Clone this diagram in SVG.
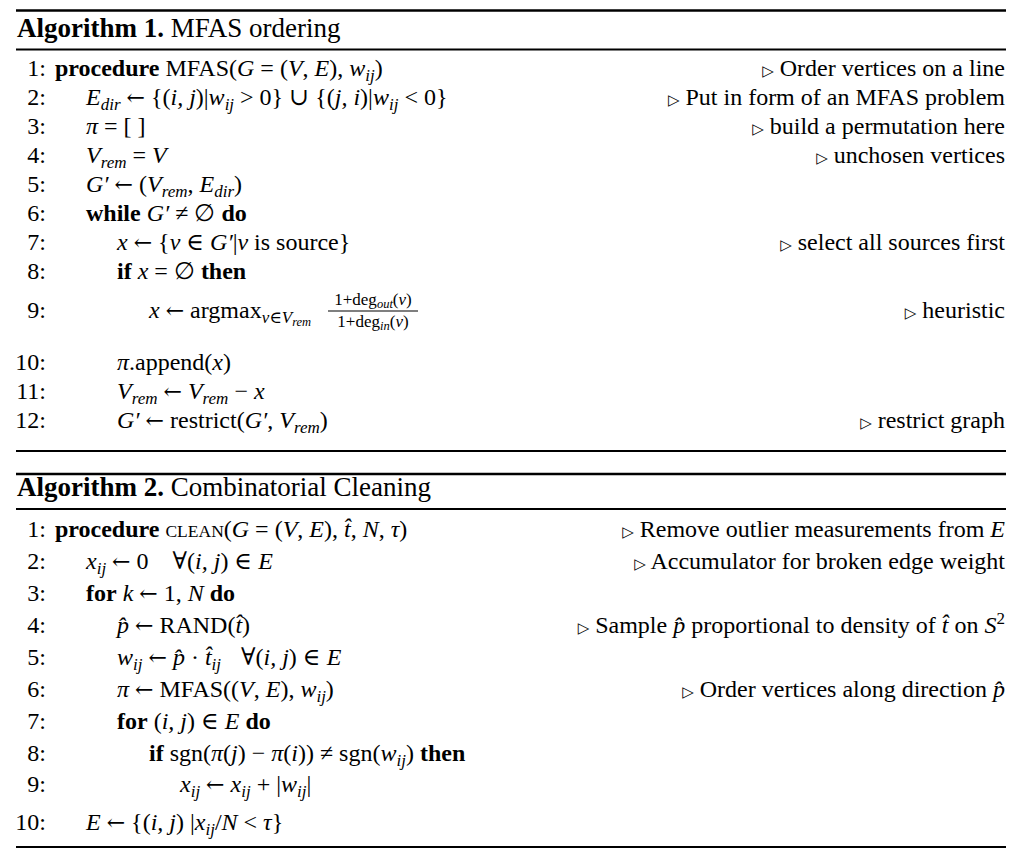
<svg xmlns="http://www.w3.org/2000/svg" width="1022" height="857" viewBox="0 0 1022 857">
<style>
text{font-family:"Liberation Serif","DejaVu Serif",serif;font-size:24px;fill:#000}
.ttl{font-size:27px}
.bf{font-weight:bold}
.it{font-style:italic}
.sb{font-size:17px}
.ss{font-size:12.5px}
.fr{font-size:17px}
.sc{font-size:17.5px}
.ar{font-family:"DejaVu Serif",serif;font-size:22px}
.tri{font-family:"DejaVu Sans",sans-serif;font-size:15px}
.num{text-anchor:end}
.cm{text-anchor:end}
.thick{stroke:#000;stroke-width:2.6}
.thin{stroke:#000;stroke-width:1.8}
.bar{stroke:#000;stroke-width:1.1}
</style>
<rect width="1022" height="857" fill="#fff"/>
<g id="rules">
<line class="thick" x1="16" y1="10.5" x2="1006" y2="10.5"/>
<line class="thin" x1="16" y1="49.5" x2="1006" y2="49.5"/>
<line class="thin" x1="16" y1="451" x2="1006" y2="451"/>
<line class="thick" x1="16" y1="474" x2="1006" y2="474"/>
<line class="thin" x1="16" y1="509" x2="1006" y2="509"/>
<line class="thin" x1="16" y1="847" x2="1006" y2="847"/>
</g>
<g id="alg1">
<text class="ttl" x="17" y="37"><tspan class="bf">Algorithm 1.</tspan> MFAS ordering</text>
<g id="a1-numbers">
<text class="num" x="46" y="76">1:</text>
<text class="num" x="46" y="105">2:</text>
<text class="num" x="46" y="134">3:</text>
<text class="num" x="46" y="163">4:</text>
<text class="num" x="46" y="192">5:</text>
<text class="num" x="46" y="221">6:</text>
<text class="num" x="46" y="250">7:</text>
<text class="num" x="46" y="279">8:</text>
<text class="num" x="46" y="318">9:</text>
<text class="num" x="46" y="370">10:</text>
<text class="num" x="46" y="399">11:</text>
<text class="num" x="46" y="428">12:</text>
</g>
<g id="a1-code">
<text x="55" y="76"><tspan class="bf">procedure</tspan> MFAS(<tspan class="it">G</tspan> = (<tspan class="it">V</tspan>, <tspan class="it">E</tspan>), <tspan class="it">w</tspan><tspan class="it sb" dy="5">ij</tspan><tspan dy="-5">)</tspan></text>
<text x="86" y="105"><tspan class="it">E</tspan><tspan class="it sb" dy="5">dir</tspan><tspan dy="-5"> </tspan><tspan class="ar">←</tspan> {(<tspan class="it">i, j</tspan>)|<tspan class="it">w</tspan><tspan class="it sb" dy="5">ij</tspan><tspan dy="-5"> &gt; 0} ∪ {(</tspan><tspan class="it">j, i</tspan>)|<tspan class="it">w</tspan><tspan class="it sb" dy="5">ij</tspan><tspan dy="-5"> &lt; 0}</tspan></text>
<text x="86" y="134"><tspan class="it">π</tspan> = [ ]</text>
<text x="86" y="163"><tspan class="it">V</tspan><tspan class="it sb" dy="5">rem</tspan><tspan dy="-5"> = </tspan><tspan class="it">V</tspan></text>
<text x="86" y="192"><tspan class="it">G′</tspan> <tspan class="ar">←</tspan> (<tspan class="it">V</tspan><tspan class="it sb" dy="5">rem</tspan><tspan dy="-5">, </tspan><tspan class="it">E</tspan><tspan class="it sb" dy="5">dir</tspan><tspan dy="-5">)</tspan></text>
<text x="86" y="221"><tspan class="bf">while</tspan> <tspan class="it">G′</tspan> ≠ ∅ <tspan class="bf">do</tspan></text>
<text x="117" y="250"><tspan class="it">x</tspan> <tspan class="ar">←</tspan> {<tspan class="it">v</tspan> ∈ <tspan class="it">G′</tspan>|<tspan class="it">v</tspan> is source}</text>
<text x="117" y="279"><tspan class="bf">if</tspan> <tspan class="it">x</tspan> = ∅ <tspan class="bf">then</tspan></text>
<text x="149" y="318"><tspan class="it">x</tspan> <tspan class="ar">←</tspan> argmax<tspan class="sb" dy="5"><tspan class="it">v</tspan>∈<tspan class="it">V</tspan><tspan class="it ss" dy="3">rem</tspan></tspan></text>
<g id="a1-frac">
<line class="bar" x1="328" y1="311" x2="418" y2="311"/>
<text class="fr" x="373" y="305" text-anchor="middle">1+deg<tspan class="it ss" dy="3">out</tspan><tspan dy="-3">(</tspan><tspan class="it">v</tspan>)</text>
<text class="fr" x="373" y="327" text-anchor="middle">1+deg<tspan class="it ss" dy="3">in</tspan><tspan dy="-3">(</tspan><tspan class="it">v</tspan>)</text>
</g>
<text x="117" y="370"><tspan class="it">π</tspan>.append(<tspan class="it">x</tspan>)</text>
<text x="117" y="399"><tspan class="it">V</tspan><tspan class="it sb" dy="5">rem</tspan><tspan dy="-5"> </tspan><tspan class="ar">←</tspan> <tspan class="it">V</tspan><tspan class="it sb" dy="5">rem</tspan><tspan dy="-5"> − </tspan><tspan class="it">x</tspan></text>
<text x="117" y="428"><tspan class="it">G′</tspan> <tspan class="ar">←</tspan> restrict(<tspan class="it">G′</tspan>, <tspan class="it">V</tspan><tspan class="it sb" dy="5">rem</tspan><tspan dy="-5">)</tspan></text>
</g>
<g id="a1-comments">
<text class="cm" x="1005" y="76"><tspan class="tri">▷</tspan> Order vertices on a line</text>
<text class="cm" x="1005" y="105"><tspan class="tri">▷</tspan> Put in form of an MFAS problem</text>
<text class="cm" x="1005" y="134"><tspan class="tri">▷</tspan> build a permutation here</text>
<text class="cm" x="1005" y="163"><tspan class="tri">▷</tspan> unchosen vertices</text>
<text class="cm" x="1005" y="250"><tspan class="tri">▷</tspan> select all sources first</text>
<text class="cm" x="1005" y="318"><tspan class="tri">▷</tspan> heuristic</text>
<text class="cm" x="1005" y="428"><tspan class="tri">▷</tspan> restrict graph</text>
</g>
</g>
<g id="alg2">
<text class="ttl" x="17" y="496"><tspan class="bf">Algorithm 2.</tspan> Combinatorial Cleaning</text>
<g id="a2-numbers">
<text class="num" x="46" y="537">1:</text>
<text class="num" x="46" y="569">2:</text>
<text class="num" x="46" y="601">3:</text>
<text class="num" x="46" y="633">4:</text>
<text class="num" x="46" y="665">5:</text>
<text class="num" x="46" y="697">6:</text>
<text class="num" x="46" y="729">7:</text>
<text class="num" x="46" y="761">8:</text>
<text class="num" x="46" y="792">9:</text>
<text class="num" x="46" y="830">10:</text>
</g>
<g id="a2-code">
<text x="55" y="537"><tspan class="bf">procedure</tspan> <tspan class="sc">CLEAN</tspan>(<tspan class="it">G</tspan> = (<tspan class="it">V</tspan>, <tspan class="it">E</tspan>), <tspan class="it">t&#x302;</tspan>, <tspan class="it">N</tspan>, <tspan class="it">τ</tspan>)</text>
<text x="86" y="569"><tspan class="it">x</tspan><tspan class="it sb" dy="5">ij</tspan><tspan dy="-5"> </tspan><tspan class="ar">←</tspan> 0<tspan dx="24">∀(</tspan><tspan class="it">i, j</tspan>) ∈ <tspan class="it">E</tspan></text>
<text x="86" y="601"><tspan class="bf">for</tspan> <tspan class="it">k</tspan> <tspan class="ar">←</tspan> 1, <tspan class="it">N</tspan> <tspan class="bf">do</tspan></text>
<text x="117" y="633"><tspan class="it">p&#x302;</tspan> <tspan class="ar">←</tspan> RAND(<tspan class="it">t&#x302;</tspan>)</text>
<text x="117" y="665"><tspan class="it">w</tspan><tspan class="it sb" dy="5">ij</tspan><tspan dy="-5"> </tspan><tspan class="ar">←</tspan> <tspan class="it">p&#x302;</tspan> · <tspan class="it">t&#x302;</tspan><tspan class="it sb" dy="5">ij</tspan><tspan dy="-5" dx="20">∀(</tspan><tspan class="it">i, j</tspan>) ∈ <tspan class="it">E</tspan></text>
<text x="117" y="697"><tspan class="it">π</tspan> <tspan class="ar">←</tspan> MFAS((<tspan class="it">V</tspan>, <tspan class="it">E</tspan>), <tspan class="it">w</tspan><tspan class="it sb" dy="5">ij</tspan><tspan dy="-5">)</tspan></text>
<text x="117" y="729"><tspan class="bf">for</tspan> (<tspan class="it">i, j</tspan>) ∈ <tspan class="it">E</tspan> <tspan class="bf">do</tspan></text>
<text x="149" y="761"><tspan class="bf">if</tspan> sgn(<tspan class="it">π</tspan>(<tspan class="it">j</tspan>) − <tspan class="it">π</tspan>(<tspan class="it">i</tspan>)) ≠ sgn(<tspan class="it">w</tspan><tspan class="it sb" dy="5">ij</tspan><tspan dy="-5">) </tspan><tspan class="bf">then</tspan></text>
<text x="180" y="792"><tspan class="it">x</tspan><tspan class="it sb" dy="5">ij</tspan><tspan dy="-5"> </tspan><tspan class="ar">←</tspan> <tspan class="it">x</tspan><tspan class="it sb" dy="5">ij</tspan><tspan dy="-5"> + |</tspan><tspan class="it">w</tspan><tspan class="it sb" dy="5">ij</tspan><tspan dy="-5">|</tspan></text>
<text x="86" y="830"><tspan class="it">E</tspan> <tspan class="ar">←</tspan> {(<tspan class="it">i, j</tspan>) |<tspan class="it">x</tspan><tspan class="it sb" dy="5">ij</tspan><tspan dy="-5">/</tspan><tspan class="it">N</tspan> &lt; <tspan class="it">τ</tspan>}</text>
</g>
<g id="a2-comments">
<text class="cm" x="1005" y="537"><tspan class="tri">▷</tspan> Remove outlier measurements from <tspan class="it">E</tspan></text>
<text class="cm" x="1005" y="569"><tspan class="tri">▷</tspan> Accumulator for broken edge weight</text>
<text class="cm" x="1005" y="633"><tspan class="tri">▷</tspan> Sample <tspan class="it">p&#x302;</tspan> proportional to density of <tspan class="it">t&#x302;</tspan> on <tspan class="it">S</tspan><tspan class="sb" dy="-9">2</tspan></text>
<text class="cm" x="1005" y="697"><tspan class="tri">▷</tspan> Order vertices along direction <tspan class="it">p&#x302;</tspan></text>
</g>
</g>
</svg>
